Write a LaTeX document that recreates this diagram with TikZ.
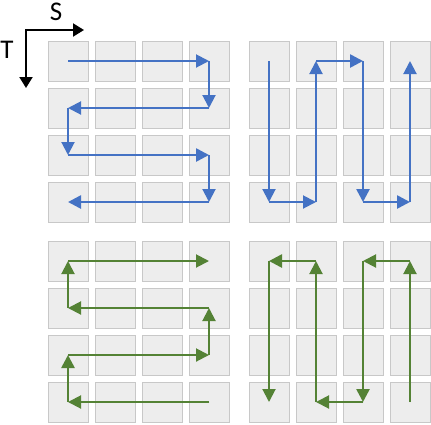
\documentclass[tikz,border=0pt]{standalone}
\usepackage{fontspec}
\setmainfont{Carlito}
\usetikzlibrary{arrows.meta}
\definecolor{cellfill}{HTML}{EDEDED}
\definecolor{celledge}{HTML}{C8C8C8}
\definecolor{flowblue}{HTML}{4472C4}
\definecolor{flowgreen}{HTML}{548235}
\begin{document}
\begin{tikzpicture}[x=1pt,y=-1pt,
  cell/.style={draw=celledge,fill=cellfill,line width=1pt,minimum size=40pt,inner sep=0pt},
  flow/.style={line width=2pt,-{Triangle[length=13pt,width=13pt]}},
  bflow/.style={flow,draw=flowblue,fill=flowblue},
  gflow/.style={flow,draw=flowgreen,fill=flowgreen},
  axisline/.style={line width=2pt,black,{Triangle[length=11pt,width=13pt]}-{Triangle[length=11pt,width=13pt]}},
  lbl/.style={font=\fontsize{27}{27}\selectfont,inner sep=0pt}]
\useasboundingbox (0,0) rectangle (431,424);
\foreach \g/\ox/\oy in {A/68/61,B/269/61,C/68/261,D/269/261}
  \foreach \r in {1,...,4}
    \foreach \c in {1,...,4}
      \node[cell] (\g\r\c) at ({\ox+(\c-1)*47},{\oy+(\r-1)*47}) {};
% axes
\coordinate (ax0) at (26,30);
\coordinate (axS) at (84,30);
\coordinate (axT) at (26,88);
\draw[axisline] (axS) -- (ax0) -- (axT);
\node[lbl] (S) at (56,11.5) {S};
\node[lbl] (T) at (7,50) {T};
% blue, top-left
\draw[bflow] (A11.center) -- (A14.center);
\draw[bflow] (A14.center) -- (A24.center);
\draw[bflow] (A24.center) -- (A21.center);
\draw[bflow] (A21.center) -- (A31.center);
\draw[bflow,line width=2.6pt] (A31.center) -- (A34.center);
\draw[bflow] (A34.center) -- (A44.center);
\draw[bflow,line width=2.6pt] (A44.center) -- (A41.center);
% blue, top-right
\draw[bflow] (B11.center) -- (B41.center);
\draw[bflow] (B41.center) -- (B42.center);
\draw[bflow] (B42.center) -- (B12.center);
\draw[bflow,line width=2.6pt] (B12.center) -- (B13.center);
\draw[bflow,line width=2.6pt] (B13.center) -- (B43.center);
\draw[bflow,line width=2.6pt] (B43.center) -- (B44.center);
\draw[bflow] (B44.center) -- (B14.center);
% green, bottom-left
\draw[gflow] (C44.center) -- (C41.center);
\draw[gflow,line width=2.6pt] (C41.center) -- (C31.center);
\draw[gflow] (C31.center) -- (C34.center);
\draw[gflow] (C34.center) -- (C24.center);
\draw[gflow] (C24.center) -- (C21.center);
\draw[gflow] (C21.center) -- (C11.center);
\draw[gflow] (C11.center) -- (C14.center);
% green, bottom-right
\draw[gflow] (D44.center) -- (D14.center);
\draw[gflow] (D14.center) -- (D13.center);
\draw[gflow,line width=2.6pt] (D13.center) -- (D43.center);
\draw[gflow] (D43.center) -- (D42.center);
\draw[gflow] (D42.center) -- (D12.center);
\draw[gflow,line width=2.6pt] (D12.center) -- (D11.center);
\draw[gflow] (D11.center) -- (D41.center);
\end{tikzpicture}
\end{document}
